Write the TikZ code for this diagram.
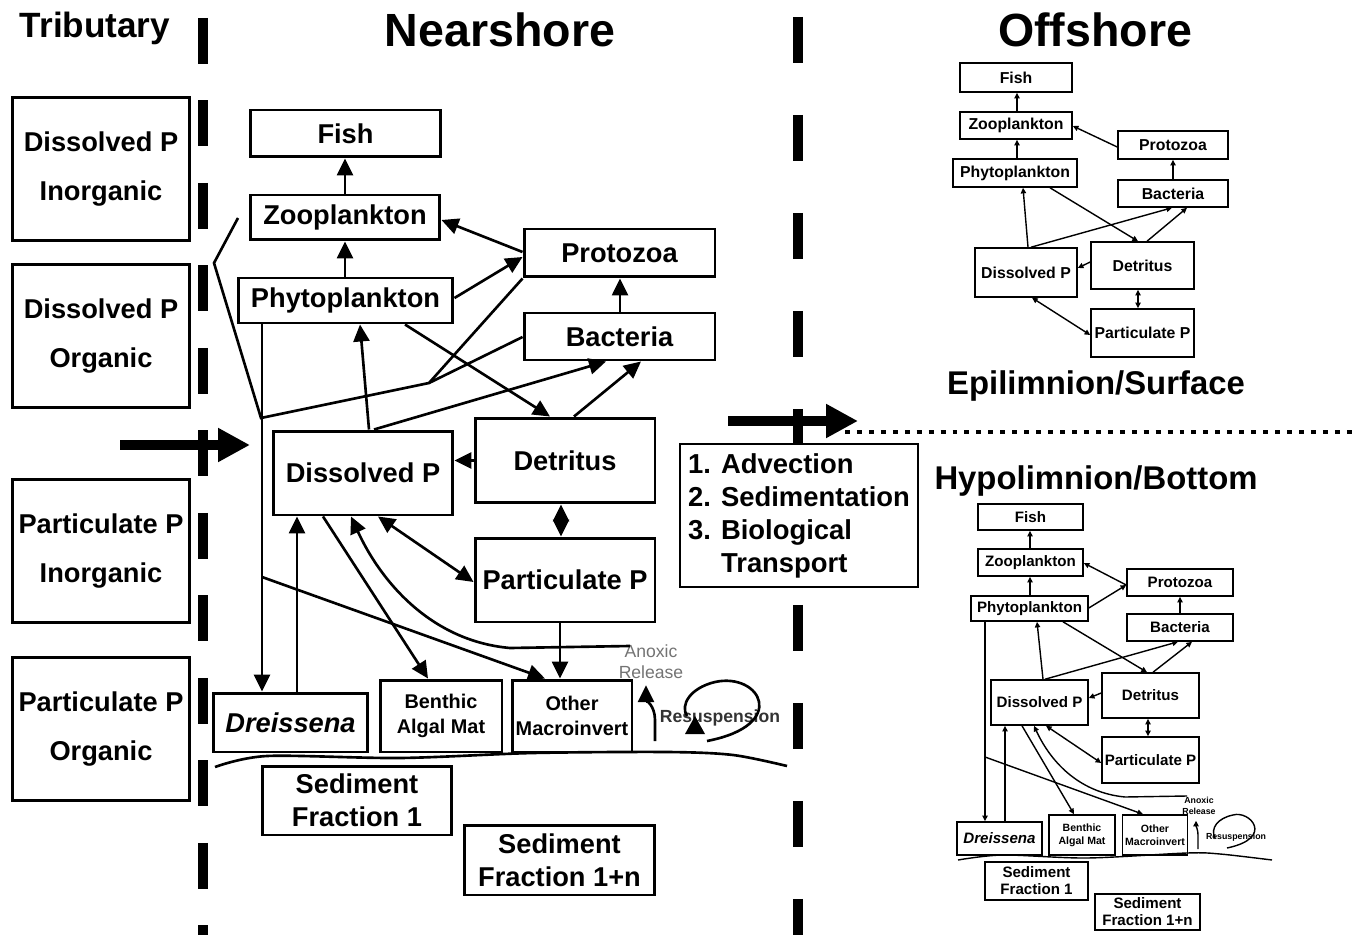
\documentclass[tikz,border=0pt]{standalone}
\usepackage{fontspec}
\setmainfont{Liberation Sans}
\usetikzlibrary{arrows.meta,calc}
\begin{document}
\begin{tikzpicture}[x=0.02cm,y=-0.02cm,
  nbox/.style={draw,line width=1.7pt,inner sep=0pt,align=center,font=\bfseries\fontsize{15.5}{18}\selectfont},
  tbox/.style={draw,line width=1.7pt,inner sep=0pt,align=center,minimum width=3.56cm,minimum height=2.86cm,font=\bfseries\fontsize{15.5}{28}\selectfont},
  obox/.style={draw,line width=0.9pt,inner sep=0pt,align=center,font=\bfseries\fontsize{9}{10}\selectfont},
  ubox/.style={draw,line width=0.9pt,inner sep=0pt,align=center,font=\bfseries\fontsize{8.6}{9.7}\selectfont},
  title/.style={font=\bfseries\fontsize{26.5}{30}\selectfont},
  layer/.style={font=\bfseries\fontsize{18.7}{22}\selectfont},
  ln/.style={line width=1.5pt},
  arr/.style={line width=1.5pt,-{Triangle[length=0.34cm,width=0.32cm]}},
  darr/.style={line width=1.5pt,{Triangle[length=0.34cm,width=0.32cm]}-{Triangle[length=0.34cm,width=0.32cm]}},
  sln/.style={line width=0.8pt},
  sarr/.style={line width=0.8pt,-{Triangle[length=3.2pt,width=3pt]}},
  sdarr/.style={line width=0.8pt,{Triangle[length=3.2pt,width=3pt]}-{Triangle[length=3.2pt,width=3pt]}},
  bigarr/.style={line width=5.7pt,-{Triangle[length=0.64cm,width=0.64cm]}},
  divider/.style={line width=5.7pt}]
\useasboundingbox (0,0) rectangle (1361,935);

\draw[divider,dash pattern=on 0.92cm off 0.73cm] (203,18) -- (203,935);
\draw[divider,dash pattern=on 0.92cm off 1.04cm] (798,17) -- (798,935);
\draw[line width=2.8pt,dash pattern=on 2.8pt off 4pt] (845,432) -- (1355,432);

\node[font=\bfseries\fontsize{20}{24}\selectfont] (hdT) at (95,28) {Tributary};
\node[title] (hdN) at (500,30) {Nearshore};
\node[title] (hdO) at (1095,30) {Offshore};

\node[tbox] (tribA) at (101,169) {Dissolved P\\Inorganic};
\node[tbox] (tribB) at (101,336) {Dissolved P\\Organic};
\node[tbox] (tribC) at (101,551) {Particulate P\\Inorganic};
\node[tbox] (tribD) at (101,729) {Particulate P\\Organic};

\node[nbox,minimum width=3.82cm,minimum height=0.94cm] (fishN) at (345.5,133.5) {Fish};
\node[nbox,minimum width=3.80cm,minimum height=0.90cm] (zooN) at (345,217.5) {Zooplankton};
\node[nbox,minimum width=4.30cm,minimum height=0.90cm] (phytoN) at (345.5,300.5) {Phytoplankton};
\node[nbox,minimum width=3.82cm,minimum height=0.96cm] (protoN) at (619.5,253) {Protozoa};
\node[nbox,minimum width=3.82cm,minimum height=0.94cm] (bactN) at (619.5,336.5) {Bacteria};
\node[nbox,minimum width=3.60cm,minimum height=1.68cm] (dissN) at (363,473) {Dissolved P};
\node[nbox,minimum width=3.60cm,minimum height=1.70cm] (detN) at (565,460.5) {Detritus};
\node[nbox,minimum width=3.60cm,minimum height=1.68cm] (partN) at (565,580) {Particulate P};
\node[nbox,minimum width=3.10cm,minimum height=1.18cm] (dreisN) at (290.5,722.5) {\itshape Dreissena};
\node[nbox,minimum width=2.44cm,minimum height=1.44cm,font=\bfseries\fontsize{11.3}{14.2}\selectfont] (benthN) at (441,716) {Benthic\\Algal Mat};
\node[nbox,minimum width=2.40cm,minimum height=1.44cm,font=\bfseries\fontsize{11.3}{14.2}\selectfont] (otherN) at (572,716) {Other\\Macroinvert};
\node[nbox,minimum width=3.80cm,minimum height=1.38cm,font=\bfseries\fontsize{15.5}{18.8}\selectfont] (sedAN) at (357,800.5) {Sediment\\Fraction 1};
\node[nbox,minimum width=3.82cm,minimum height=1.40cm,font=\bfseries\fontsize{15.5}{18.8}\selectfont] (sedBN) at (559.5,860) {Sediment\\Fraction 1+n};
\node[draw,fill=white,line width=1.2pt,inner sep=0pt,minimum width=4.76cm,minimum height=2.86cm,align=left,font=\bfseries\fontsize{15.6}{18.8}\selectfont] (transN) at (799,515.5) {1. Advection\\2. Sedimentation\\3. Biological\\\phantom{3. }Transport};
\node[align=center,text=black!55,font=\fontsize{10}{12}\selectfont] (anoxN) at (651,662) {Anoxic\\Release};
\node[text=black!80,font=\bfseries\fontsize{10}{12}\selectfont] (resN) at (720,718) {Resuspension};

\coordinate (inA) at (120,445);
\coordinate (inB) at (250,445);
\coordinate (exA) at (728,421);
\coordinate (exB) at (858,421);
\draw[bigarr] (inA) -- (inB);
\draw[bigarr] (exA) -- (exB);

\coordinate (jZ) at (238,218);
\coordinate (jC) at (214,263);
\coordinate (jA) at (261,418);
\coordinate (jB) at (429,383);
\coordinate (jD) at (262,577);
\coordinate (anoxEnd) at (630,646);
\coordinate (anoxS) at (655,741);
\coordinate (resS) at (707,741);

\draw[arr] (zooN.north -| 345,0) -- (fishN.south -| 345,0);
\draw[arr] (phytoN.north -| 345,0) -- (zooN.south -| 345,0);
\draw[arr] (protoN.west |- 0,252) -- (zooN.east |- 0,220);
\draw[arr] (phytoN.east |- 0,298) -- (protoN.west |- 0,257);
\draw[arr] (bactN.north -| 620,0) -- (protoN.south -| 620,0);
\draw[arr] (dissN.north -| 369,0) -- (phytoN.south -| 360,0);
\draw[arr] (dissN.north -| 374,0) -- (bactN.south -| 606,0);
\draw[arr] (phytoN.south -| 405,0) -- (detN.north -| 550,0);
\draw[arr] (detN.north -| 574,0) -- (bactN.south -| 641,0);
\draw[arr] (detN.west) -- (detN.west -| dissN.east);
\draw[darr] (detN.south -| 561,0) -- (partN.north -| 561,0);
\draw[darr] (dissN.south -| 378,0) -- (partN.west |- 0,582);
\draw[arr] (partN.south -| 560,0) -- (otherN.north -| 560,0);
\draw[arr] (dissN.south -| 323,0) -- (benthN.north -| 428,0);
\draw[arr] (dreisN.north -| 297,0) -- (dissN.south -| 297,0);
\draw[arr] (phytoN.south -| 262,0) -- (dreisN.north -| 262,0);
\draw[ln] (jZ) -- (jC) -- (jA) -- (jB) -- (protoN.south west);
\draw[ln] (jB) -- (bactN.west |- 0,337);
\draw[arr] (jD) -- (otherN.north -| 545,0);
\draw[arr] (anoxEnd) -- (510,648) .. controls (430,641) and (380,580) .. (dissN.south -| 351,0);
\draw[arr] (anoxS) -- (655,720) to[out=90,in=-90] (anoxN.south -| 646,0);
\draw[ln] (resS) .. controls (790,725) and (760,672) .. (715,682) .. controls (690,688) and (680,705) .. (687,716);
\fill (685,734) -- (705,734) -- (695,716) -- cycle;
\draw[ln] plot[smooth] coordinates {(215,767) (267,756) (400,758) (533,753) (667,752) (733,755) (787,766)};

\node[layer] (epiN) at (1096,386) {Epilimnion/Surface};
\node[layer] (hypN) at (1096,481) {Hypolimnion/Bottom};

\node[obox,minimum width=2.24cm,minimum height=0.58cm] (fishT) at (1016,77.5) {Fish};
\node[obox,minimum width=2.24cm,minimum height=0.54cm] (zooT) at (1016,125.5) {Zooplankton};
\node[obox,minimum width=2.48cm,minimum height=0.56cm] (phytoT) at (1015,173) {Phytoplankton};
\node[obox,minimum width=2.20cm,minimum height=0.56cm] (protoT) at (1173,145) {Protozoa};
\node[obox,minimum width=2.20cm,minimum height=0.54cm] (bactT) at (1173,193.5) {Bacteria};
\node[obox,minimum width=2.04cm,minimum height=0.98cm] (dissT) at (1026,272.5) {Dissolved P};
\node[obox,minimum width=2.06cm,minimum height=0.94cm] (detT) at (1142.5,265.5) {Detritus};
\node[obox,minimum width=2.06cm,minimum height=0.96cm] (partT) at (1142.5,333) {Particulate P};

\draw[sarr] (zooT.north -| 1017,0) -- (fishT.south -| 1017,0);
\draw[sarr] (phytoT.north -| 1017,0) -- (zooT.south -| 1017,0);
\draw[sarr] (protoT.west |- 0,147) -- (zooT.east |- 0,126);
\draw[sarr] (bactT.north -| 1173,0) -- (protoT.south -| 1173,0);
\draw[sarr] (dissT.north -| 1028,0) -- (phytoT.south -| 1023,0);
\draw[sarr] (dissT.north -| 1031,0) -- (bactT.south -| 1172,0);
\draw[sarr] (phytoT.south -| 1050,0) -- (detT.north -| 1138,0);
\draw[sarr] (detT.north -| 1147,0) -- (bactT.south -| 1187,0);
\draw[sarr] (detT.west |- 0,262) -- (dissT.east |- 0,268);
\draw[sdarr] (detT.south -| 1138,0) -- (partT.north -| 1138,0);
\draw[sdarr] (dissT.south -| 1032,0) -- (partT.west |- 0,335);

\node[ubox,minimum width=2.10cm,minimum height=0.52cm] (fishB) at (1030.5,517) {Fish};
\node[ubox,minimum width=2.10cm,minimum height=0.54cm] (zooB) at (1030.5,562.5) {Zooplankton};
\node[ubox,minimum width=2.34cm,minimum height=0.50cm] (phytoB) at (1029.5,608.5) {Phytoplankton};
\node[ubox,minimum width=2.12cm,minimum height=0.54cm] (protoB) at (1180,582.5) {Protozoa};
\node[ubox,minimum width=2.12cm,minimum height=0.54cm] (bactB) at (1180,627.5) {Bacteria};
\node[ubox,minimum width=1.94cm,minimum height=0.90cm] (dissB) at (1039.5,702.5) {Dissolved P};
\node[ubox,minimum width=1.94cm,minimum height=0.90cm] (detB) at (1150.5,695.5) {Detritus};
\node[ubox,minimum width=1.94cm,minimum height=0.92cm] (partB) at (1150.5,760) {Particulate P};
\node[ubox,minimum width=1.70cm,minimum height=0.66cm] (dreisB) at (999.5,838.5) {\itshape Dreissena};
\node[ubox,minimum width=1.32cm,minimum height=0.80cm,font=\bfseries\fontsize{6}{7.4}\selectfont] (benthB) at (1082,835) {Benthic\\Algal Mat};
\node[ubox,minimum width=1.30cm,minimum height=0.80cm,font=\bfseries\fontsize{6}{7.4}\selectfont] (otherB) at (1155,835) {Other\\Macroinvert};
\node[ubox,minimum width=2.06cm,minimum height=0.76cm] (sedAB) at (1036.5,881) {Sediment\\Fraction 1};
\node[ubox,minimum width=2.10cm,minimum height=0.72cm] (sedBB) at (1147.5,912) {Sediment\\Fraction 1+n};
\node[align=center,font=\bfseries\fontsize{5}{6}\selectfont] (anoxB) at (1199,806) {Anoxic\\Release};
\node[font=\bfseries\fontsize{5}{6}\selectfont] (resB) at (1236,837) {Resuspension};

\coordinate (jDB) at (985,757);
\coordinate (anoxEndB) at (1187,796);
\coordinate (anoxSB) at (1198,849);
\coordinate (resSB) at (1227,848);

\draw[sarr] (zooB.north -| 1030,0) -- (fishB.south -| 1030,0);
\draw[sarr] (phytoB.north -| 1030,0) -- (zooB.south -| 1030,0);
\draw[sarr] (protoB.west |- 0,585) -- (zooB.east |- 0,563);
\draw[sarr] (phytoB.east |- 0,608) -- (protoB.west |- 0,585);
\draw[sarr] (bactB.north -| 1180,0) -- (protoB.south -| 1180,0);
\draw[sarr] (dissB.north -| 1043,0) -- (phytoB.south -| 1037,0);
\draw[sarr] (dissB.north -| 1045,0) -- (bactB.south -| 1178,0);
\draw[sarr] (phytoB.south -| 1063,0) -- (detB.north -| 1147,0);
\draw[sarr] (detB.north -| 1153,0) -- (bactB.south -| 1192,0);
\draw[sarr] (detB.west |- 0,693) -- (dissB.east |- 0,698);
\draw[sdarr] (detB.south -| 1148,0) -- (partB.north -| 1148,0);
\draw[sdarr] (dissB.south -| 1046,0) -- (partB.west |- 0,763);
\draw[sarr] (phytoB.south -| 985,0) -- (dreisB.north -| 985,0);
\draw[sarr] (dreisB.north -| 1005,0) -- (dissB.south -| 1005,0);
\draw[sarr] (dissB.south -| 1022,0) -- (benthB.north -| 1074,0);
\draw[sarr] (jDB) -- (otherB.north -| 1143,0);
\draw[sarr] (anoxEndB) -- (1125,797) .. controls (1082,793) and (1052,765) .. (dissB.south -| 1034,0);
\draw[sarr] (anoxSB) -- (1198,835) to[out=90,in=-90] (anoxB.south -| 1196,0);
\draw[sln] (resSB) .. controls (1275,838) and (1250,810) .. (1233,815) .. controls (1218,818) and (1210,828) .. (1215,838);
\draw[sln] plot[smooth] coordinates {(958,860) (1003,855) (1087,858) (1187,853) (1220,854) (1272,860)};
\end{tikzpicture}
\end{document}
